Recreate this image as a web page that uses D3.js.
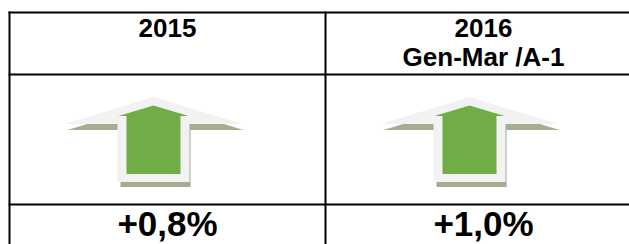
<!DOCTYPE html>
<html>
<head>
<meta charset="utf-8">
<script src="https://cdn.jsdelivr.net/npm/d3@7"></script>
<style>
  body { margin: 0; background: #fff; }
  svg { display: block; }
  text { font-family: "Liberation Sans", Arial, sans-serif; font-weight: bold; fill: #000; }
</style>
</head>
<body>
<div id="chart"></div>
<script>
var width = 629, height = 244;

// data
var periods = ["2015", "2016"];
var subLabels = ["", "Gen-Mar /A-1"];
var values = [0.8, 1.0];
var valueLabels = ["+0,8%", "+1,0%"];

var svg = d3.select("#chart").append("svg")
  .attr("width", width)
  .attr("height", height);

// columns of the table
var xScale = d3.scaleBand()
  .domain(periods)
  .range([9.5, 641.5]);

// rows: header, arrow, value
var rowEdges = [12.5, 74.5, 204.5, 260];

var lineColor = "#000";

// horizontal lines
svg.selectAll(".hline")
  .data(rowEdges.slice(0, 3))
  .enter()
  .append("line")
  .attr("class", "hline")
  .attr("x1", xScale.range()[0] - 1)
  .attr("x2", width)
  .attr("y1", function(d){ return d; })
  .attr("y2", function(d){ return d; })
  .attr("stroke", lineColor)
  .attr("stroke-width", 2);

// vertical lines
svg.selectAll(".vline")
  .data(periods)
  .enter()
  .append("line")
  .attr("class", "vline")
  .attr("x1", function(d){ return xScale(d); })
  .attr("x2", function(d){ return xScale(d); })
  .attr("y1", rowEdges[0] - 1)
  .attr("y2", height)
  .attr("stroke", lineColor)
  .attr("stroke-width", 2);

var cx = function(d){ return xScale(d) + xScale.bandwidth() / 2; };

// header text
var head = svg.selectAll(".head")
  .data(periods)
  .enter()
  .append("text")
  .attr("class", "head")
  .attr("text-anchor", "middle")
  .attr("font-size", "26px")
  .attr("x", cx)
  .attr("y", 37);

head.append("tspan")
  .text(function(d){ return d; });

head.append("tspan")
  .attr("x", function(d){ return cx(d); })
  .attr("dy", 29)
  .text(function(d, i){ return subLabels[i]; });

function arrowPath(c, top, headBase, halfHead, halfShaft, bottom) {
  return "M" + c + "," + top +
    "L" + (c + halfHead) + "," + headBase +
    "L" + (c + halfShaft) + "," + headBase +
    "L" + (c + halfShaft) + "," + bottom +
    "L" + (c - halfShaft) + "," + bottom +
    "L" + (c - halfShaft) + "," + headBase +
    "L" + (c - halfHead) + "," + headBase + "Z";
}

// one up-arrow per period (values are positive)
var arrows = svg.selectAll(".arrow")
  .data(values)
  .enter()
  .append("g")
  .attr("class", "arrow")
  .attr("transform", function(d, i){
    return "translate(" + (cx(periods[i]) - 14) + ",0)";
  });

// shadow
arrows.append("path")
  .attr("d", arrowPath(2, 103, 130, 88, 35, 187))
  .attr("fill", "#a3af90");

// light outline
arrows.append("path")
  .attr("d", arrowPath(0, 97, 124, 89, 36, 182))
  .attr("fill", "#f2f2f2");

// green arrow
arrows.append("path")
  .attr("d", arrowPath(0, 105.5, 116, 35, 27, 174))
  .attr("fill", "#70ad47");

// value labels
svg.selectAll(".val")
  .data(valueLabels)
  .enter()
  .append("text")
  .attr("class", "val")
  .attr("text-anchor", "middle")
  .attr("font-size", "35px")
  .attr("x", function(d, i){ return cx(periods[i]); })
  .attr("y", 236)
  .text(function(d){ return d; });
</script>
</body>
</html>
